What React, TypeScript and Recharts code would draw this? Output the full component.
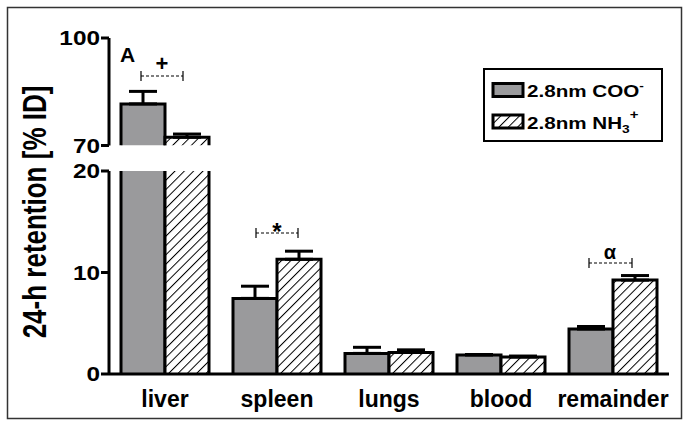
import { Bar, BarChart, ErrorBar, XAxis, YAxis } from "recharts"

// 24-h retention [% ID] per organ
const categories = ["liver", "spleen", "lungs", "blood", "remainder"]
const cooValues = [81.6, 7.45, 2.03, 1.87, 4.43]
const cooErrors = [3.5, 1.2, 0.6, 0.05, 0.25]
const nh3Values = [72.3, 11.3, 2.13, 1.67, 9.25]
const nh3Errors = [0.9, 0.8, 0.25, 0.1, 0.45]
const seriesNames = ["2.8nm COO", "2.8nm NH"]

const upperTicks = [70, 100]
const lowerTicks = [0, 10, 20]

const FONT = "'Liberation Sans', Arial, sans-serif"
const GRAY = "#9a9a9c"

// upper panel only carries the values above the break
const upperData = categories.map((name, i) => ({
  name,
  coo: cooValues[i] >= 70 ? cooValues[i] : null,
  cooErr: cooValues[i] >= 70 ? [0, cooErrors[i]] : null,
  nh3: nh3Values[i] >= 70 ? nh3Values[i] : null,
  nh3Err: nh3Values[i] >= 70 ? [0, nh3Errors[i]] : null,
}))

const lowerData = categories.map((name, i) => ({
  name,
  coo: cooValues[i],
  cooErr: cooValues[i] > 20 ? null : [0, cooErrors[i]],
  nh3: nh3Values[i],
  nh3Err: nh3Values[i] > 20 ? null : [0, nh3Errors[i]],
}))

function OpenBar(props: any) {
  const { x, y, width, height, fill } = props
  if (!height || height <= 0) return null
  return (
    <g>
      <rect x={x} y={y} width={width} height={height} fill={fill} stroke="none" />
      <path
        d={`M${x},${y + height} L${x},${y} L${x + width},${y} L${x + width},${y + height}`}
        fill="none"
        stroke="#000"
        strokeWidth={3}
      />
    </g>
  )
}

function YTick(props: any) {
  const { x, y, payload } = props
  return (
    <g transform={`translate(${x},${y})`}>
      <text
        x={0}
        y={0}
        dy={7}
        textAnchor="end"
        transform="scale(1.25,1)"
        fontFamily={FONT}
        fontWeight="bold"
        fontSize={19.5}
        fill="#000"
      >
        {payload.value}
      </text>
    </g>
  )
}

const HatchDefs = ({ id }: { id: string }) => (
  <defs>
    <pattern id={id} patternUnits="userSpaceOnUse" width={6.6} height={6.6} patternTransform="rotate(45)">
      <rect width={6.6} height={6.6} fill="#fff" />
      <line x1={0} y1={0} x2={0} y2={6.6} stroke="#000" strokeWidth={2} />
    </pattern>
  </defs>
)

function Bracket({ x1, x2, y }: { x1: number; x2: number; y: number }) {
  return (
    <g stroke="#000" strokeWidth={1.2}>
      <line x1={x1} y1={y} x2={x2} y2={y} strokeDasharray="3 2" />
      <line x1={x1} y1={y - 5} x2={x1} y2={y + 5} />
      <line x1={x2} y1={y - 5} x2={x2} y2={y + 5} />
    </g>
  )
}

export default function App() {
  const chartProps = {
    width: 689,
    barCategoryGap: 12,
    barGap: 0,
  }
  return (
    <div style={{ position: "absolute", left: 0, top: 0, width: 689, height: 427, background: "#fff" }}>
      <div style={{ position: "absolute", left: 0, top: 0 }}>
        <BarChart
          {...chartProps}
          height={160}
          data={upperData}
          margin={{ top: 38, right: 20, bottom: 14.5, left: 0 }}
        >
          <HatchDefs id="hatchTop" />
          <XAxis dataKey="name" hide />
          <YAxis
            width={109}
            domain={[70, 100]}
            ticks={upperTicks}
            allowDataOverflow
            axisLine={{ stroke: "#000", strokeWidth: 3 }}
            tickLine={{ stroke: "#000", strokeWidth: 3 }}
            tickSize={8}
            tickMargin={1}
            tick={<YTick />}
          />
          <Bar dataKey="coo" fill={GRAY} shape={<OpenBar />} isAnimationActive={false}>
            <ErrorBar dataKey="cooErr" width={14} stroke="#000" strokeWidth={3} direction="y" />
          </Bar>
          <Bar dataKey="nh3" fill="url(#hatchTop)" shape={<OpenBar />} isAnimationActive={false}>
            <ErrorBar dataKey="nh3Err" width={14} stroke="#000" strokeWidth={3} direction="y" />
          </Bar>
        </BarChart>
      </div>
      <div style={{ position: "absolute", left: 0, top: 0 }}>
        <BarChart
          {...chartProps}
          height={427}
          data={lowerData}
          margin={{ top: 171, right: 20, bottom: 13, left: 0 }}
        >
          <HatchDefs id="hatchLow" />
          <XAxis
            dataKey="name"
            height={40}
            axisLine={{ stroke: "#000", strokeWidth: 3 }}
            tickLine={false}
            tickSize={0}
            tickMargin={17}
            tick={{ fill: "#000", fontSize: 23, fontWeight: "bold", fontFamily: FONT }}
          />
          <YAxis
            width={109}
            domain={[0, 20]}
            ticks={lowerTicks}
            allowDataOverflow
            axisLine={{ stroke: "#000", strokeWidth: 3 }}
            tickLine={{ stroke: "#000", strokeWidth: 3 }}
            tickSize={8}
            tickMargin={1}
            tick={<YTick />}
          />
          <Bar dataKey="coo" fill={GRAY} shape={<OpenBar />} isAnimationActive={false}>
            <ErrorBar dataKey="cooErr" width={14} stroke="#000" strokeWidth={3} direction="y" />
          </Bar>
          <Bar dataKey="nh3" fill="url(#hatchLow)" shape={<OpenBar />} isAnimationActive={false}>
            <ErrorBar dataKey="nh3Err" width={14} stroke="#000" strokeWidth={3} direction="y" />
          </Bar>
        </BarChart>
      </div>
      <svg
        width={689}
        height={427}
        style={{ position: "absolute", left: 0, top: 0, pointerEvents: "none" }}
        fontFamily={FONT}
        fontWeight="bold"
      >
        <defs>
          <pattern id="hatchLegend" patternUnits="userSpaceOnUse" width={6.6} height={6.6} patternTransform="rotate(45)">
            <rect width={6.6} height={6.6} fill="#fff" />
            <line x1={0} y1={0} x2={0} y2={6.6} stroke="#000" strokeWidth={2} />
          </pattern>
        </defs>
        <rect x={7.5} y={7.5} width={674} height={411} fill="none" stroke="#333" strokeWidth={1.5} />

        <text
          transform="translate(46,212) rotate(-90) scale(1,1.25)"
          textAnchor="middle"
          fontSize={26}
          fill="#000"
        >
          24-h retention [% ID]
        </text>

        <text x={120} y={62} fontSize={21} fill="#000">A</text>

        <Bracket x1={141} x2={183} y={76} />
        <text x={162} y={71} textAnchor="middle" fontSize={22} fill="#000">+</text>

        <Bracket x1={256} x2={298} y={233} />
        <text x={277} y={240} textAnchor="middle" fontSize={24} fill="#000">*</text>

        <Bracket x1={589} x2={632} y={263} />
        <text x={610} y={259} textAnchor="middle" fontSize={20} fill="#000">α</text>

        <rect x={484} y={69} width={178} height={72} fill="#fff" stroke="#000" strokeWidth={2} />
        <rect x={493} y={83.5} width={30} height={13} fill={GRAY} stroke="#000" strokeWidth={3} />
        <rect x={493} y={115} width={30} height={13} fill="url(#hatchLegend)" stroke="#000" strokeWidth={3} />
        <text transform="translate(527,97) scale(1.25,1)" fontSize={16.5} fill="#000">
          {seriesNames[0]}
          <tspan fontSize={11} dy={-8}>-</tspan>
        </text>
        <text transform="translate(527,129) scale(1.25,1)" fontSize={16.5} fill="#000">
          {seriesNames[1]}
          <tspan fontSize={11} dy={4}>3</tspan>
          <tspan fontSize={12} dy={-14}>+</tspan>
        </text>
      </svg>
    </div>
  )
}
